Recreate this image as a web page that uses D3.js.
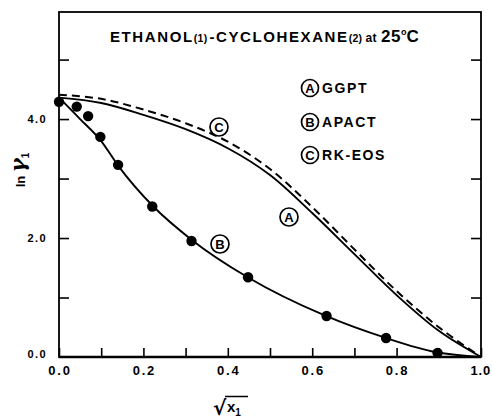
<!DOCTYPE html>
<html><head><meta charset="utf-8">
<script src="https://cdn.jsdelivr.net/npm/d3@7"></script>
<style>
html,body{margin:0;padding:0;background:#fff;}
svg{display:block;font-family:"Liberation Sans",Arial,sans-serif;}
</style></head><body>
<svg id="chart" width="492" height="419"></svg>
<script>
// ---- data ----
const expX = [0, 0.042, 0.069, 0.098, 0.140, 0.221, 0.314, 0.448, 0.634, 0.775, 0.897];
const expY = [4.29, 4.21, 4.05, 3.70, 3.23, 2.53, 1.95, 1.34, 0.69, 0.32, 0.07];

const curveX = [0, 0.1, 0.2, 0.3, 0.4, 0.5, 0.6, 0.7, 0.8, 0.9, 1.0];
const ggptY  = [4.36, 4.27, 4.07, 3.83, 3.51, 3.06, 2.42, 1.73, 1.04, 0.44, 0];   // A
const rkeosY = [4.41, 4.34, 4.16, 3.93, 3.62, 3.16, 2.52, 1.81, 1.11, 0.50, 0];   // C

const apactX = [0, 0.05, 0.1, 0.141, 0.2236, 0.3162, 0.4472, 0.6325, 0.7746, 0.8944, 1.0];
const apactY = [4.36, 4.00, 3.63, 3.21, 2.53, 1.96, 1.34, 0.69, 0.32, 0.08, 0];  // B

const xTicks = [0, 0.1, 0.2, 0.3, 0.4, 0.5, 0.6, 0.7, 0.8, 0.9, 1.0];
const xTickLabels = [0, 0.2, 0.4, 0.6, 0.8, 1.0];
const yTicks = [1, 2, 3, 4, 5];
const yTickLabels = [0, 2, 4];

const legendKeys = ["A", "B", "C"];
const legendNames = ["GGPT", "APACT", "RK-EOS"];

// ---- layout ----
const svg = d3.select("#chart");
const L = 59, R = 481, T = 12, B = 357;
const x = d3.scaleLinear().domain([0, 1]).range([L, R]);
const y = d3.scaleLinear().domain([0, 5.8]).range([B, T]);

// frame
svg.append("rect").attr("x", L).attr("y", T).attr("width", R - L).attr("height", B - T)
  .attr("fill", "none").attr("stroke", "#000").attr("stroke-width", 1.8);
svg.append("line").attr("x1", L).attr("x2", R).attr("y1", B).attr("y2", B)
  .attr("stroke", "#000").attr("stroke-width", 2.4);

// axes via d3 axis with inward ticks
const xAxis = d3.axisBottom(x).tickValues(xTicks).tickSize(-9).tickFormat("");
svg.append("g").attr("transform", `translate(0,${B})`).call(xAxis)
  .call(g => { g.select(".domain").remove(); g.selectAll("line").attr("stroke-width", 1.6); });
const yAxisL = d3.axisLeft(y).tickValues(yTicks).tickSize(-10).tickFormat("");
svg.append("g").attr("transform", `translate(${L},0)`).call(yAxisL)
  .call(g => { g.select(".domain").remove(); g.selectAll("line").attr("stroke-width", 1.6); });
const yAxisR = d3.axisRight(y).tickValues(yTicks).tickSize(-10).tickFormat("");
svg.append("g").attr("transform", `translate(${R},0)`).call(yAxisR)
  .call(g => { g.select(".domain").remove(); g.selectAll("line").attr("stroke-width", 1.6); });

// tick labels
svg.append("g").selectAll("text").data(xTickLabels).join("text")
  .attr("x", d => d === 1 ? 491 : x(d) + 1).attr("y", 375)
  .attr("text-anchor", d => d === 1 ? "end" : "middle")
  .attr("font-size", 13).attr("font-weight", "bold").attr("letter-spacing", d => d === 1 ? 0.8 : 1.8)
  .text(d => d.toFixed(1));
svg.append("g").selectAll("text").data(yTickLabels).join("text")
  .attr("x", 47).attr("y", d => y(d) + 4 - (d === 0 ? 3 : 0)).attr("text-anchor", "end")
  .attr("font-size", 11).attr("font-weight", "bold").attr("letter-spacing", 1.4)
  .text(d => d.toFixed(1));

// curves
const lineGen = (xs, ys, c) => d3.line().x((d, i) => x(xs[i])).y((d, i) => y(ys[i]))
  .curve(c)(ys);
svg.append("path").attr("d", lineGen(curveX, rkeosY, d3.curveCatmullRom.alpha(0.5))).attr("fill", "none")
  .attr("stroke", "#000").attr("stroke-width", 2).attr("stroke-dasharray", "8,5");
svg.append("path").attr("d", lineGen(curveX, ggptY, d3.curveCatmullRom.alpha(0.5))).attr("fill", "none")
  .attr("stroke", "#000").attr("stroke-width", 1.9);
svg.append("path").attr("d", lineGen(apactX, apactY, d3.curveMonotoneX)).attr("fill", "none")
  .attr("stroke", "#000").attr("stroke-width", 1.9);

// experimental points
svg.append("g").selectAll("circle").data(expY).join("circle")
  .attr("cx", (d, i) => x(expX[i])).attr("cy", d => y(d)).attr("r", 5.2).attr("fill", "#000");

// circled letter helper
function circled(cx, cy, letter, r) {
  const g = svg.append("g");
  g.append("circle").attr("cx", cx).attr("cy", cy).attr("r", r)
    .attr("fill", "#fff").attr("stroke", "#000").attr("stroke-width", 1.7);
  g.append("text").attr("x", cx).attr("y", cy + 4.8).attr("text-anchor", "middle")
    .attr("font-size", 13).attr("font-weight", "bold").text(letter);
}

// curve labels
circled(219, 127, "C", 9);
circled(289, 217, "A", 9);
circled(220, 244, "B", 9);

// legend
const legY = [88, 122, 155];
legendKeys.forEach((k, i) => {
  circled(310, legY[i], k, 8.5);
  svg.append("text").attr("x", 322).attr("y", legY[i] + 5)
    .attr("font-size", 14).attr("font-weight", "bold").attr("letter-spacing", 1.6)
    .text(legendNames[i]);
});

// title
const title = svg.append("text").attr("x", 110).attr("y", 42)
  .attr("font-weight", "bold").attr("letter-spacing", 1.6);
title.append("tspan").attr("font-size", 15).text("ETHANOL");
title.append("tspan").attr("font-size", 10.5).attr("letter-spacing", 0.3).text("(1)");
title.append("tspan").attr("font-size", 15).attr("dx", 2).text("-CYCLOHEXANE");
title.append("tspan").attr("font-size", 10.5).attr("letter-spacing", 0.3).text("(2)");
title.append("tspan").attr("font-size", 12).attr("dx", 3).attr("letter-spacing", 0.5).text("at");
title.append("tspan").attr("font-size", 17).attr("dx", 4).attr("letter-spacing", 0.5).text("25");
title.append("tspan").attr("font-size", 9).attr("dy", -7).attr("letter-spacing", 0).text("o");
title.append("tspan").attr("font-size", 17).attr("dy", 7).text("C");

// y label  ln γ1 (rotated)
const yl = svg.append("text").attr("transform", "translate(25,170) rotate(-90)")
  .attr("text-anchor", "middle").attr("font-weight", "bold");
yl.append("tspan").attr("font-size", 13).text("ln ");
yl.append("tspan").attr("font-size", 21).attr("font-style", "italic").attr("font-family", "DejaVu Serif, serif").text("γ");
yl.append("tspan").attr("font-size", 10).attr("dy", 4).text("1");

// x label √x1
const xl = svg.append("g");
xl.append("text").attr("x", 213).attr("y", 415).attr("font-size", 20).attr("font-weight", "bold")
  .attr("font-family", "DejaVu Sans, sans-serif").text("√");
xl.append("line").attr("x1", 225).attr("x2", 248).attr("y1", 396.5).attr("y2", 396.5)
  .attr("stroke", "#000").attr("stroke-width", 1.5);
const xt = xl.append("text").attr("x", 227).attr("y", 412).attr("font-weight", "bold");
xt.append("tspan").attr("font-size", 15).text("x");
xt.append("tspan").attr("font-size", 10).attr("dy", 4).text("1");
</script>
</body></html>
